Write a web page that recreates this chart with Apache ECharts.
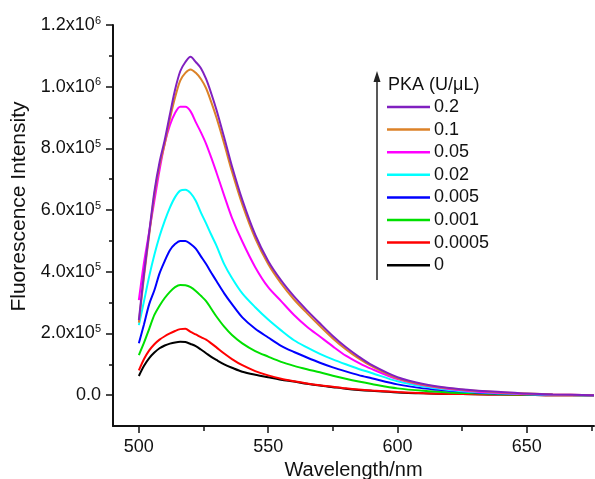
<!DOCTYPE html>
<html>
<head>
<meta charset="utf-8">
<script src="https://cdn.jsdelivr.net/npm/echarts@6/dist/echarts.min.js"></script>
<style>
html,body{margin:0;padding:0;background:#fff;}
#chart{width:595px;height:479px;}
</style>
</head>
<body>
<div id="chart"></div>
<script>
// Wavelength (nm)
const wavelengths = [500,502,504,506,508,510,512,514,516,518,520,522,524,526,528,530,533,536,540,545,550,555,560,565,570,575,580,585,590,600,610,620,630,640,650,660,676];
// Fluorescence intensity, in units of 1e5
const pka0_2    = [2.43,3.95,5.28,6.6,7.55,8.27,9.1,9.9,10.5,10.8,10.97,10.8,10.6,10.25,9.78,9.25,8.35,7.42,6.33,5.2,4.35,3.72,3.2,2.75,2.33,1.92,1.56,1.25,0.98,0.58,0.36,0.23,0.15,0.1,0.05,0.02,0.0];
const pka0_1    = [2.35,3.85,5.2,6.5,7.45,8.15,8.95,9.65,10.2,10.45,10.56,10.45,10.25,9.95,9.5,9.0,8.15,7.25,6.18,5.08,4.25,3.62,3.1,2.66,2.24,1.84,1.49,1.19,0.94,0.55,0.34,0.22,0.14,0.09,0.05,0.02,0.0];
const pka0_05   = [3.08,4.3,5.3,6.3,7.3,8.15,8.75,9.15,9.35,9.35,9.2,8.85,8.52,8.15,7.7,7.22,6.47,5.75,4.98,4.15,3.5,3.05,2.6,2.22,1.9,1.58,1.28,1.05,0.85,0.52,0.32,0.2,0.12,0.07,0.04,0.02,0.0];
const pka0_02   = [2.27,3.05,3.85,4.55,5.15,5.65,6.08,6.42,6.63,6.66,6.55,6.3,5.92,5.57,5.2,4.85,4.25,3.8,3.3,2.85,2.45,2.1,1.78,1.55,1.34,1.16,1.0,0.85,0.72,0.45,0.28,0.17,0.1,0.06,0.03,0.01,0.0];
const pka0_005  = [1.68,2.3,2.95,3.4,3.95,4.35,4.7,4.9,5.0,5.0,4.9,4.75,4.5,4.25,3.97,3.7,3.3,2.95,2.52,2.15,1.87,1.6,1.4,1.22,1.05,0.9,0.77,0.65,0.55,0.35,0.22,0.14,0.09,0.05,0.03,0.01,0.0];
const pka0_001  = [1.3,1.7,2.15,2.6,2.9,3.15,3.35,3.5,3.57,3.56,3.5,3.38,3.22,3.05,2.8,2.55,2.22,1.95,1.68,1.43,1.25,1.08,0.95,0.84,0.74,0.63,0.53,0.44,0.36,0.22,0.14,0.09,0.06,0.03,0.02,0.01,0.0];
const pka0_0005 = [0.8,1.17,1.45,1.65,1.8,1.91,2.0,2.08,2.14,2.15,2.05,1.97,1.88,1.8,1.68,1.55,1.35,1.17,0.97,0.78,0.64,0.53,0.45,0.38,0.32,0.27,0.22,0.18,0.15,0.1,0.06,0.04,0.03,0.02,0.01,0.0,0.0];
const pka0      = [0.62,0.95,1.2,1.38,1.52,1.61,1.67,1.71,1.73,1.72,1.66,1.59,1.48,1.36,1.24,1.14,1.0,0.89,0.76,0.66,0.58,0.5,0.44,0.37,0.31,0.26,0.21,0.17,0.14,0.09,0.06,0.04,0.03,0.02,0.01,0.0,0.0];

const UNIT = 1e5;
const seriesNames  = ['0','0.0005','0.001','0.005','0.02','0.05','0.1','0.2'];
const seriesValues = [pka0,pka0_0005,pka0_001,pka0_005,pka0_02,pka0_05,pka0_1,pka0_2];
const seriesColors = ['#000000','#FF0000','#00E000','#0000FF','#00FFFF','#FF00FF','#DC8228','#8020C0'];
const legendOrder  = ['0.2','0.1','0.05','0.02','0.005','0.001','0.0005','0'];

const xMajorTicks = [500,550,600,650];
const xMinorTicks = [525,575,625,675];
const yMajorTicks = [0,2e5,4e5,6e5,8e5,1e6,1.2e6];
const yMinorTicks = [1e5,3e5,5e5,7e5,9e5,1.1e6];

const FONT = '"Liberation Sans", Arial, sans-serif';
const TXT = '#111';

function yLabel(v){
  if (Math.abs(v) < 1) return '{b|0.0}';
  const e = Math.floor(Math.log10(Math.abs(v)) + 1e-9);
  const m = v / Math.pow(10, e);
  return '{b|' + m.toFixed(1) + 'x10}{s|' + e + '}';
}

const chart = echarts.init(document.getElementById('chart'), null, {renderer:'canvas'});
const option = {
  backgroundColor: '#fff',
  animation: false,
  grid: {left:113, right:1, top:25, bottom:53, containLabel:false, outerBoundsMode:'none'},
  xAxis: [{
    type:'value', min:490, max:676, position:'bottom',
    name:'Wavelength/nm', nameLocation:'middle', nameGap:34,
    nameTextStyle:{fontFamily:FONT, fontSize:20, color:TXT},
    axisLine:{show:true, onZero:false, lineStyle:{color:'#111', width:2}},
    axisTick:{show:true, inside:false, length:7, customValues:xMajorTicks, lineStyle:{color:'#111', width:1.5}},
    axisLabel:{show:true, customValues:xMajorTicks, margin:12, fontFamily:FONT, fontSize:18, color:TXT},
    splitLine:{show:false}
  },{
    type:'value', min:490, max:676, position:'bottom',
    axisLine:{show:false, onZero:false},
    axisTick:{show:true, inside:false, length:5, customValues:xMinorTicks, lineStyle:{color:'#111', width:1.5}},
    axisLabel:{show:false},
    splitLine:{show:false}
  }],
  yAxis: [{
    type:'value', min:-1e5, max:1.2e6, position:'left',
    name:'Fluorescence Intensity', nameLocation:'middle', nameGap:75, nameRotate:90,
    nameTextStyle:{fontFamily:FONT, fontSize:21, color:TXT, padding:[0,0,0,38]},
    axisLine:{show:true, onZero:false, lineStyle:{color:'#111', width:2}},
    axisTick:{show:true, inside:false, length:7, customValues:yMajorTicks, lineStyle:{color:'#111', width:1.5}},
    axisLabel:{show:true, customValues:yMajorTicks, margin:12, formatter:yLabel,
      rich:{
        b:{fontFamily:FONT, fontSize:18, color:TXT, lineHeight:20},
        s:{fontFamily:FONT, fontSize:11, color:TXT, verticalAlign:'top', lineHeight:20}
      }},
    splitLine:{show:false}
  },{
    type:'value', min:-1e5, max:1.2e6, position:'left',
    axisLine:{show:false, onZero:false},
    axisTick:{show:true, inside:false, length:4, customValues:yMinorTicks, lineStyle:{color:'#111', width:1.5}},
    axisLabel:{show:false},
    splitLine:{show:false}
  }],
  legend: {
    data: legendOrder,
    orient:'vertical', left:387, top:98, padding:0,
    icon:'rect', itemWidth:43, itemHeight:2.5, itemGap:4.6,
    selectedMode:false,
    textStyle:{fontFamily:FONT, fontSize:18, color:TXT, padding:[0,0,0,-1]}
  },
  graphic: [
    {type:'line', shape:{x1:377, y1:280, x2:377, y2:80}, style:{stroke:'#222', lineWidth:1.5}},
    {type:'polygon', shape:{points:[[377,71],[373.5,82],[380.5,82]]}, style:{fill:'#222'}},
    {type:'text', left:388, top:76, style:{text:'PKA (U/μL)', font:'18px ' + FONT, fill:TXT}}
  ],
  series: seriesNames.map((name, i) => ({
    name: name,
    type:'line',
    xAxisIndex:0, yAxisIndex:0,
    data: wavelengths.map((w, j) => [w, seriesValues[i][j] * UNIT]),
    symbol:'none',
    smooth:0.3,
    lineStyle:{color:seriesColors[i], width:2},
    itemStyle:{color:seriesColors[i]},
    z: 2 + i
  }))
};
chart.setOption(option);
</script>
</body>
</html>
